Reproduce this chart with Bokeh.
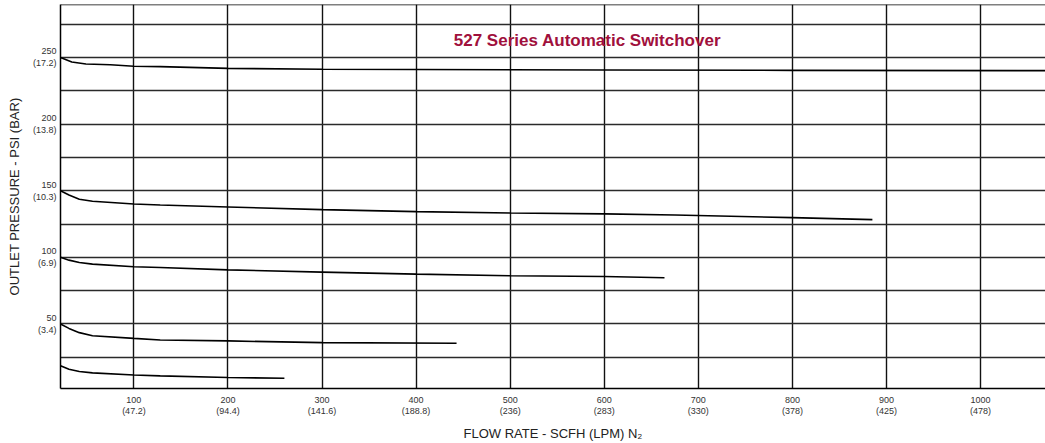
from bokeh.plotting import figure
from bokeh.models import FixedTicker, Label, Span, Range1d
from bokeh.embed import file_html
from bokeh.resources import INLINE

# ---------------- data ----------------
X_TICKS = [100, 200, 300, 400, 500, 600, 700, 800, 900, 1000]
X_TICK_LABELS = ["100\n(47.2)", "200\n(94.4)", "300\n(141.6)", "400\n(188.8)", "500\n(236)",
                 "600\n(283)", "700\n(330)", "800\n(378)", "900\n(425)", "1000\n(478)"]
Y_TICKS = [50, 100, 150, 200, 250]
Y_TICK_LABELS = ["50\n(3.4)", "100\n(6.9)", "150\n(10.3)", "200\n(13.8)", "250\n(17.2)"]
Y_GRID = [25, 50, 75, 100, 125, 150, 175, 200, 225, 250, 275]

# outlet pressure curves (flow SCFH, outlet PSI)
c250_x = [22, 34, 49, 75, 100, 128, 200, 300, 400, 600, 800, 1069]
c250_y = [250, 246.6, 245.1, 244.5, 243.4, 243.1, 241.8, 241.1, 240.9, 240.6, 240.3, 240.1]

c150_x = [22, 31, 42, 56, 100, 128, 200, 300, 400, 500, 600, 675, 800, 885]
c150_y = [150, 146.8, 143.6, 142.1, 140.0, 139.3, 137.8, 135.8, 134.3, 133.3, 132.6, 131.8, 129.8, 128.3]

c100_x = [22, 31, 42, 56, 100, 128, 200, 300, 400, 500, 600, 664]
c100_y = [100, 97.9, 96.1, 94.9, 92.9, 92.4, 90.6, 88.9, 87.4, 86.2, 85.6, 84.7]

c50_x = [22, 31, 42, 56, 100, 128, 200, 300, 443]
c50_y = [50, 46.7, 43.5, 41.2, 39.2, 38.0, 37.3, 36.0, 35.5]

c20_x = [22, 31, 42, 56, 100, 128, 200, 260]
c20_y = [18.6, 16.0, 14.3, 13.3, 11.7, 11.1, 9.8, 9.3]

TITLE = "527 Series Automatic Switchover"
X_LABEL = "FLOW RATE - SCFH (LPM) N\u2082"
Y_LABEL = "OUTLET PRESSURE - PSI (BAR)"

X_START, X_END = 22, 1069
Y_START, Y_END = 1.6, 289.7

FONT = "Liberation Sans"

# ---------------- figure ----------------
p = figure(width=1045, height=443, output_backend="svg", toolbar_location=None,
           x_range=Range1d(X_START, X_END), y_range=Range1d(Y_START, Y_END),
           min_border_left=60, min_border_right=0, min_border_top=4, min_border_bottom=54)
p.background_fill_color = "white"
p.border_fill_color = "white"
p.outline_line_color = None

# grid
p.xgrid.ticker = FixedTicker(ticks=X_TICKS)
p.ygrid.ticker = FixedTicker(ticks=Y_GRID)
p.xgrid.grid_line_color = "#111111"
p.xgrid.grid_line_width = 1.4
p.ygrid.grid_line_color = "#2a2a2a"
p.ygrid.grid_line_width = 1.4

# axes
p.xaxis.ticker = FixedTicker(ticks=X_TICKS)
p.xaxis.major_label_overrides = dict(zip(X_TICKS, X_TICK_LABELS))
p.yaxis.ticker = FixedTicker(ticks=Y_TICKS)
p.yaxis.major_label_overrides = dict(zip(Y_TICKS, Y_TICK_LABELS))
for ax in (p.xaxis, p.yaxis):
    ax.axis_line_color = "black"
    ax.axis_line_width = 1.5
    ax.major_tick_line_color = None
    ax.minor_tick_line_color = None
    ax.major_tick_out = 0
    ax.major_tick_in = 0
    ax.minor_tick_out = 0
    ax.minor_tick_in = 0
    ax.major_label_text_font = FONT
    ax.major_label_text_font_size = "9px"
    ax.major_label_text_color = "#333333"
    ax.axis_label_text_font = FONT
    ax.axis_label_text_font_size = "13px"
    ax.axis_label_text_font_style = "normal"
    ax.axis_label_text_color = "#222222"
p.xaxis.axis_label = X_LABEL
p.yaxis.axis_label = Y_LABEL
p.xaxis.major_label_standoff = 6
p.xaxis.major_label_text_line_height = 1.1
p.xaxis.axis_label_standoff = 7
p.yaxis.major_label_standoff = 4
p.yaxis.axis_label_standoff = 8
p.yaxis.major_label_text_align = "center"

# top border
p.add_layout(Span(location=Y_END, dimension="width", line_color="black", line_width=1.5))

# curves
for xs, ys in ((c250_x, c250_y), (c150_x, c150_y), (c100_x, c100_y), (c50_x, c50_y), (c20_x, c20_y)):
    p.line(xs, ys, line_color="black", line_width=1.6)

# title
p.add_layout(Label(x=440, y=262.8, text=TITLE, text_font=FONT, text_font_size="17px",
                   text_font_style="bold", text_color="#A0103C", text_baseline="middle"))

open("out.html", "w").write(file_html(p, INLINE))
